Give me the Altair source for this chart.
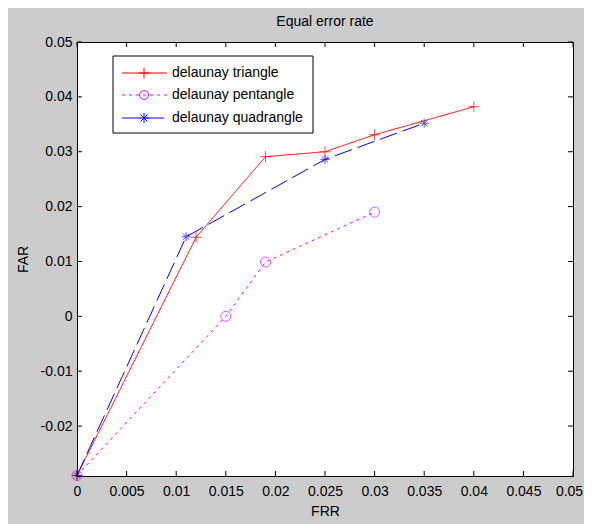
import altair as alt
import pandas as pd

series = ["delaunay triangle", "delaunay pentangle", "delaunay quadrangle"]
colors = ["#ff0000", "#ff00ff", "#0000ff"]
dashes = [[1, 0], [3, 4], [18, 6]]

tri_x = [0.0, 0.012, 0.019, 0.025, 0.030, 0.040]
tri_y = [-0.029, 0.0144, 0.0291, 0.0300, 0.0331, 0.0382]
pent_x = [0.0, 0.015, 0.019, 0.030]
pent_y = [-0.029, 0.0, 0.0099, 0.0190]
quad_x = [0.0, 0.011, 0.025, 0.035]
quad_y = [-0.029, 0.0145, 0.0286, 0.0352]

x_ticks = [0, 0.005, 0.01, 0.015, 0.02, 0.025, 0.03, 0.035, 0.04, 0.045, 0.05]
y_ticks = [-0.02, -0.01, 0, 0.01, 0.02, 0.03, 0.04, 0.05]

PLUS = "M-1,0L1,0M0,-1L0,1"
STAR = "M-1,0L1,0M0,-1L0,1M-0.7,-0.7L0.7,0.7M-0.7,0.7L0.7,-0.7"
shapes = [PLUS, "circle", STAR]
sizes = [120, 80, 100]

W, H = 496, 434
FONT = "Liberation Sans"

rows = []
for name, xs, ys in [(series[0], tri_x, tri_y), (series[1], pent_x, pent_y), (series[2], quad_x, quad_y)]:
    for a, b in zip(xs, ys):
        rows.append({"series": name, "FRR": a, "FAR": b})
df = pd.DataFrame(rows)

xscale = alt.Scale(domain=[0, 0.05], nice=False, zero=False)
yscale = alt.Scale(domain=[-0.0291, 0.05], nice=False, zero=False)

xaxis = alt.Axis(values=x_ticks, labelExpr="'' + datum.value", tickSize=0, domain=False,
                 grid=False, labelPadding=8, titlePadding=6, labelFontSize=14, titleFontSize=14,
                 labelFont=FONT, titleFont=FONT, labelColor="black", titleColor="black",
                 titleFontWeight="normal", labelFlush=False,
                 labelOffset={"condition": {"test": "datum.value >= 0.05", "value": -4}, "value": 0})
yaxis = alt.Axis(values=y_ticks, labelExpr="'' + datum.value", tickSize=0, domain=False,
                 grid=False, labelPadding=5, titlePadding=10, labelFontSize=14, titleFontSize=14,
                 labelFont=FONT, titleFont=FONT, labelColor="black", titleColor="black",
                 titleFontWeight="normal", labelFlush=False)

color_enc = alt.Color("series:N", scale=alt.Scale(domain=series, range=colors), legend=None)

lines = alt.Chart(df).mark_line(strokeWidth=1, clip=True).encode(
    x=alt.X("FRR:Q", scale=xscale, axis=xaxis, title="FRR"),
    y=alt.Y("FAR:Q", scale=yscale, axis=yaxis, title="FAR"),
    color=color_enc,
    strokeDash=alt.StrokeDash("series:N", scale=alt.Scale(domain=series, range=dashes), legend=None),
    detail="series:N",
)

points = alt.Chart(df).mark_point(filled=False, strokeWidth=1, size=100).encode(
    x=alt.X("FRR:Q", scale=xscale),
    y=alt.Y("FAR:Q", scale=yscale),
    color=color_enc,
    shape=alt.Shape("series:N", scale=alt.Scale(domain=series, range=shapes), legend=None),
    size=alt.Size("series:N", scale=alt.Scale(domain=series, range=sizes), legend=None),
)

xt = pd.DataFrame({"v": x_ticks})
yt = pd.DataFrame({"v": y_ticks})
tick_layers = [
    alt.Chart(xt).mark_rule(color="black", strokeWidth=1).encode(
        x=alt.X("v:Q", scale=xscale), y=alt.value(H), y2=alt.value(H - 5)),
    alt.Chart(xt).mark_rule(color="black", strokeWidth=1).encode(
        x=alt.X("v:Q", scale=xscale), y=alt.value(0), y2=alt.value(5)),
    alt.Chart(yt).mark_rule(color="black", strokeWidth=1).encode(
        y=alt.Y("v:Q", scale=yscale), x=alt.value(0), x2=alt.value(5)),
    alt.Chart(yt).mark_rule(color="black", strokeWidth=1).encode(
        y=alt.Y("v:Q", scale=yscale), x=alt.value(W), x2=alt.value(W - 5)),
]

# legend box
one = pd.DataFrame({"k": [0]})
legend_layers = [
    alt.Chart(one).mark_rect(fill="white", stroke="black", strokeWidth=1).encode(
        x=alt.value(36), x2=alt.value(236), y=alt.value(14), y2=alt.value(91))
]
row_y = [31, 53, 76]
for i, name in enumerate(series):
    lab = pd.DataFrame({"label": [name]})
    legend_layers.append(
        alt.Chart(lab).mark_rule(color=colors[i], strokeWidth=1, strokeDash=dashes[i]).encode(
            x=alt.value(45), x2=alt.value(90), y=alt.value(row_y[i]), y2=alt.value(row_y[i])))
    legend_layers.append(
        alt.Chart(lab).mark_point(shape=shapes[i], filled=False, color=colors[i], strokeWidth=1,
                                  size=sizes[i], opacity=1).encode(
            x=alt.value(67), y=alt.value(row_y[i])))
    legend_layers.append(
        alt.Chart(lab).mark_text(align="left", baseline="middle", font=FONT, fontSize=14,
                                 color="black").encode(
            x=alt.value(95), y=alt.value(row_y[i]), text="label:N"))

chart = alt.layer(lines, points, *tick_layers, *legend_layers).properties(
    width=W, height=H,
    title=alt.TitleParams("Equal error rate", font=FONT, fontSize=14, fontWeight="normal",
                          color="black", anchor="middle", offset=6),
    background="#cccccc",
    padding={"left": 69, "top": 34, "right": 11, "bottom": 48},
    autosize=alt.AutoSizeParams(type="none"),
).configure_view(fill="white", stroke="black", strokeWidth=1)

chart.save("out.html", embed_options={"renderer": "svg", "actions": False})
